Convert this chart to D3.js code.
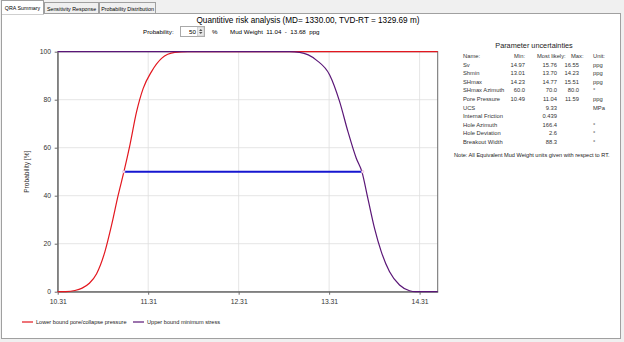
<!DOCTYPE html>
<html><head><meta charset="utf-8">
<script src="https://cdn.jsdelivr.net/npm/d3@7"></script>
<style>
html,body{margin:0;padding:0;background:#f0f0f0;overflow:hidden}
svg{display:block;font-family:"Liberation Sans",Arial,sans-serif}
</style></head>
<body><svg id="c" width="624" height="342"></svg>
<script>
// ---- data ----
const titleText = "Quantitive risk analysis (MD= 1330.00, TVD-RT = 1329.69 m)";
const tabs = ["QRA Summary", "Sensitivity Response", "Probability Distribution"];
const xTicks = [10.31, 11.31, 12.31, 13.31, 14.31];
const yTicks = [0, 20, 40, 60, 80, 100];
const xDomain = [10.31, 14.51];
const probability = 50;
const mudWeightLow = 11.04;
const mudWeightHigh = 13.68;
const lowerX = [10.31, 10.40, 10.50, 10.58, 10.66, 10.74, 10.832, 10.906, 10.979, 11.042, 11.108, 11.182, 11.255, 11.347, 11.458, 11.605, 11.75, 14.51];
const lowerY = [0, 0.05, 0.5, 1.5, 3.5, 7.5, 16.7, 27.8, 40.3, 50, 61.1, 75, 84.7, 91.7, 97.2, 99.7, 100, 100];
const upperX = [10.31, 12.87, 12.984, 13.169, 13.316, 13.426, 13.518, 13.61, 13.672, 13.738, 13.812, 13.886, 13.978, 14.088, 14.199, 14.265, 14.51];
const upperY = [100, 100, 99.7, 96.5, 90.3, 79.2, 66.7, 55.6, 50, 38.9, 26.4, 16.7, 8.3, 2.8, 0.4, 0, 0];
const seriesNames = ["Lower bound pore/collapse pressure", "Upper bound minimum stress"];
const paramNames = ["Sv", "Shmin", "SHmax", "SHmax Azimuth", "Pore Pressure", "UCS", "Internal Friction", "Hole Azimuth", "Hole Deviation", "Breakout Width"];
const paramMin = ["14.97", "13.01", "14.23", "60.0", "10.49", "", "", "", "", ""];
const paramLikely = ["15.76", "13.70", "14.77", "70.0", "11.04", "9.33", "0.439", "166.4", "2.6", "88.3"];
const paramMax = ["16.55", "14.23", "15.51", "80.0", "11.59", "", "", "", "", ""];
const paramUnit = ["ppg", "ppg", "ppg", "°", "ppg", "MPa", "", "°", "°", "°"];
const noteText = "Note: All Equivalent Mud Weight units given with respect to RT.";

// ---- drawing ----
const svg = d3.select("#c");
const RED = "#e3171f", PURPLE = "#5a1677", BLUE = "#1616d0";

// window panel
svg.append("rect").attr("x",0).attr("y",0).attr("width",624).attr("height",342).attr("fill","#f0f0f0");
svg.append("rect").attr("x",1.5).attr("y",13.5).attr("width",619).attr("height",325).attr("fill","#fff").attr("stroke","#a0a0a0");
// tabs
const tabX = [1, 44, 99, 156];
tabs.forEach((t,i)=>{
  const sel = i===0;
  svg.append("rect").attr("x",tabX[i]+0.5).attr("y",sel?0.5:2.5).attr("width",tabX[i+1]-tabX[i]-1).attr("height",sel?13.5:11)
    .attr("fill",sel?"#fff":"#f0f0f0").attr("stroke","#a0a0a0");
  svg.append("text").attr("x",(tabX[i]+tabX[i+1])/2).attr("y",sel?9.5:10.5).attr("text-anchor","middle")
    .attr("font-size",5.3).attr("fill","#000").text(t);
});
svg.append("line").attr("x1",2).attr("x2",43).attr("y1",13.5).attr("y2",13.5).attr("stroke","#fff");

// title
svg.append("text").attr("x",308).attr("y",22.5).attr("text-anchor","middle").attr("font-size",8.2).attr("fill","#000").text(titleText);

// probability control
svg.append("text").attr("x",143).attr("y",33.5).attr("font-size",6.2).text("Probability:");
svg.append("rect").attr("x",180.5).attr("y",26.5).attr("width",24).attr("height",10).attr("fill","#fff").attr("stroke","#a9a9a9");
svg.append("rect").attr("x",197.5).attr("y",27).attr("width",6.5).attr("height",9).attr("fill","#e8e8e8").attr("stroke","#b8b8b8").attr("stroke-width",0.5);
svg.append("path").attr("d","M199,31 L200.75,29 L202.5,31 Z M199,32 L200.75,34 L202.5,32 Z").attr("fill","#555");
svg.append("text").attr("x",196).attr("y",33.5).attr("text-anchor","end").attr("font-size",6.2).text(String(probability));
svg.append("text").attr("x",212).attr("y",33.5).attr("font-size",6.2).text("%");
svg.append("text").attr("x",230).attr("y",33.5).attr("font-size",6.2).attr("xml:space","preserve")
  .text("Mud Weight  " + mudWeightLow.toFixed(2) + "  -  " + mudWeightHigh.toFixed(2) + "  ppg");

// chart
const x = d3.scaleLinear().domain(xDomain).range([57.7, 437.7]);
const y = d3.scaleLinear().domain([0,100]).range([291.7, 51.7]);
const g = svg.append("g");
// gridlines
g.selectAll(".vg").data(xTicks.slice(1)).join("line").attr("x1",d=>x(d)).attr("x2",d=>x(d))
  .attr("y1",y(0)).attr("y2",y(100)).attr("stroke","#dedede").attr("stroke-width",0.8);
g.selectAll(".hg").data(yTicks.slice(1,-1)).join("line").attr("y1",d=>y(d)).attr("y2",d=>y(d))
  .attr("x1",x(xDomain[0])).attr("x2",x(xDomain[1])).attr("stroke","#dedede").attr("stroke-width",0.8);
// frame
g.append("rect").attr("x",x(xDomain[0])).attr("y",y(100)).attr("width",x(xDomain[1])-x(xDomain[0])).attr("height",y(0)-y(100))
  .attr("fill","none").attr("stroke","#6b6b6b").attr("stroke-width",1);

// axes
const xAxis = d3.axisBottom(x).tickValues(xTicks).tickFormat(d3.format(".2f")).tickSize(3).tickSizeOuter(0);
const yAxis = d3.axisLeft(y).tickValues(yTicks).tickSize(3).tickSizeOuter(0);
const gx = g.append("g").attr("transform",`translate(0,${y(0)})`).call(xAxis);
const gy = g.append("g").attr("transform",`translate(${x(xDomain[0])},0)`).call(yAxis);
[gx,gy].forEach(a=>{
  a.select(".domain").attr("stroke","#6b6b6b");
  a.selectAll(".tick line").attr("stroke","#6b6b6b");
  a.selectAll(".tick text").attr("font-size",6.8).attr("fill","#333").attr("font-family","'Liberation Sans',Arial,sans-serif");
});
gx.selectAll(".tick text").attr("dy","0.9em");
gy.selectAll(".tick text").attr("dx","-0.1em");

svg.append("text").attr("transform",`translate(29,${(y(0)+y(100))/2}) rotate(-90)`).attr("text-anchor","middle")
  .attr("font-size",6.6).attr("fill","#333").text("Probability [%]");

// curves
const line = d3.line().x(d=>x(d[0])).y(d=>y(d[1])).curve(d3.curveMonotoneX);
g.append("path").datum(d3.zip(lowerX, lowerY)).attr("d",line).attr("fill","none").attr("stroke",RED).attr("stroke-width",1.2);
g.append("path").datum(d3.zip(upperX, upperY)).attr("d",line).attr("fill","none").attr("stroke",PURPLE).attr("stroke-width",1.2);
// mud weight window
g.append("line").attr("x1",x(mudWeightLow)).attr("x2",x(mudWeightHigh)).attr("y1",y(probability)).attr("y2",y(probability))
  .attr("stroke",BLUE).attr("stroke-width",2);
g.selectAll(".mk").data([mudWeightLow, mudWeightHigh]).join("circle").attr("cx",d=>x(d)).attr("cy",y(probability)).attr("r",1.3)
  .attr("fill","#fbe9f0").attr("stroke","#e8a0c0").attr("stroke-width",0.5);

// legend
const legX = [22, 133];
seriesNames.forEach((n,i)=>{
  svg.append("line").attr("x1",legX[i]).attr("x2",legX[i]+11).attr("y1",322).attr("y2",322).attr("stroke",[RED,PURPLE][i]).attr("stroke-width",1.2);
  svg.append("text").attr("x",legX[i]+14).attr("y",324.2).attr("font-size",5.6).attr("fill","#222").text(n);
});

// parameter table
const tg = svg.append("g").attr("font-size",5.8).attr("fill","#333");
svg.append("text").attr("x",534).attr("y",47.5).attr("text-anchor","middle").attr("font-size",7.3).attr("fill","#222").text("Parameter uncertainties");
const rowY = i => 66.5 + i*8.6;
const hdrY = 57.8;
const cName = 463, cMin = 525, cLik = 557, cMax = 579, cUnit = 593;
tg.append("text").attr("x",cName).attr("y",hdrY).text("Name:");
tg.append("text").attr("x",cMin).attr("y",hdrY).attr("text-anchor","end").text("Min:");
tg.append("text").attr("x",537).attr("y",hdrY).text("Most likely:");
tg.append("text").attr("x",571).attr("y",hdrY).text("Max:");
tg.append("text").attr("x",cUnit).attr("y",hdrY).text("Unit:");
paramNames.forEach((n,i)=>{
  tg.append("text").attr("x",cName).attr("y",rowY(i)).text(n);
  tg.append("text").attr("x",cMin).attr("y",rowY(i)).attr("text-anchor","end").text(paramMin[i]);
  tg.append("text").attr("x",cLik).attr("y",rowY(i)).attr("text-anchor","end").text(paramLikely[i]);
  tg.append("text").attr("x",cMax).attr("y",rowY(i)).attr("text-anchor","end").text(paramMax[i]);
  tg.append("text").attr("x",cUnit).attr("y",rowY(i)).text(paramUnit[i]);
});
svg.append("text").attr("x",454).attr("y",157).attr("font-size",5.6).attr("fill","#222").text(noteText);
</script></body></html>
